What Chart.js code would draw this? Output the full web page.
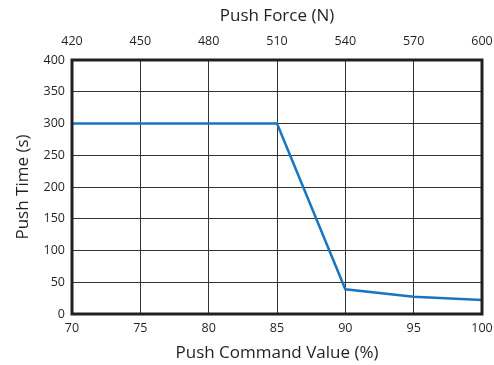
<!DOCTYPE html>
<html><head><meta charset="utf-8">
<script src="https://cdn.jsdelivr.net/npm/chart.js@4"></script>
<style>html,body{margin:0;padding:0;background:#fff}#wrap{width:494px;height:365px}</style>
</head><body><div id="wrap"><canvas id="c" width="494" height="365"></canvas></div>
<script>
const commandValues = [70, 85, 90, 95, 100];
const pushTimes = [300, 300, 39, 27, 22];
const bottomTicks = [70, 75, 80, 85, 90, 95, 100];
const topTicks = [420, 450, 480, 510, 540, 570, 600];
const yTicks = [0, 50, 100, 150, 200, 250, 300, 350, 400];

const FONT = "'Open Sans', sans-serif";
const TXT = '#231f20';
const borderPlugin = {
  id: 'frame',
  afterDatasetsDraw(chart) {
    const a = chart.chartArea, ctx = chart.ctx;
    ctx.save();
    ctx.strokeStyle = '#231f20';
    ctx.lineWidth = 3;
    ctx.strokeRect(a.left, a.top, a.right - a.left, a.bottom - a.top);
    ctx.restore();
  }
};
new Chart(document.getElementById('c'), {
  type: 'line',
  data: {
    datasets: [{
      data: commandValues.map((v, i) => ({x: v, y: pushTimes[i]})),
      borderColor: '#1a75c0',
      borderWidth: 2.5,
      pointRadius: 0,
      tension: 0,
      fill: false,
      xAxisID: 'x',
      yAxisID: 'y'
    }]
  },
  options: {
    responsive: false,
    animation: false,
    events: [],
    layout: {padding: {left: 0, right: 12, top: 0, bottom: 0}},
    plugins: {legend: {display: false}, tooltip: {enabled: false}},
    scales: {
      x: {
        type: 'linear', position: 'bottom', min: 70, max: 100,
        afterBuildTicks: s => { s.ticks = bottomTicks.map(v => ({value: v})); },
        afterFit: s => { s.height = 51; s.paddingRight = 0; s.paddingLeft = 0; },
        grid: {color: '#333', lineWidth: 1, drawTicks: false},
        border: {display: false},
        ticks: {color: TXT, font: {family: FONT, size: 12.5}, padding: 7, maxRotation: 0},
        title: {display: true, text: 'Push Command Value (%)', color: TXT, font: {family: FONT, size: 17}, padding: {top: 4, bottom: 2}}
      },
      x2: {
        type: 'linear', position: 'top', min: 420, max: 600,
        afterBuildTicks: s => { s.ticks = topTicks.map(v => ({value: v})); },
        afterFit: s => { s.height = 60; s.paddingRight = 0; s.paddingLeft = 0; },
        grid: {display: false, drawTicks: false},
        border: {display: false},
        ticks: {color: TXT, font: {family: FONT, size: 12.5}, padding: 11, maxRotation: 0},
        title: {display: true, text: 'Push Force (N)', color: TXT, font: {family: FONT, size: 17}, padding: {top: 6, bottom: 2}}
      },
      y: {
        type: 'linear', min: 0, max: 400,
        afterBuildTicks: s => { s.ticks = yTicks.map(v => ({value: v})); },
        afterFit: s => { s.width = 72; s.paddingTop = 0; s.paddingBottom = 0; },
        grid: {color: '#333', lineWidth: 1, drawTicks: false},
        border: {display: false},
        ticks: {color: TXT, font: {family: FONT, size: 12.5}, padding: 7},
        title: {display: true, text: 'Push Time (s)', color: TXT, font: {family: FONT, size: 17}, padding: {top: 13, bottom: 8}}
      }
    }
  },
  plugins: [borderPlugin]
});
</script></body></html>
